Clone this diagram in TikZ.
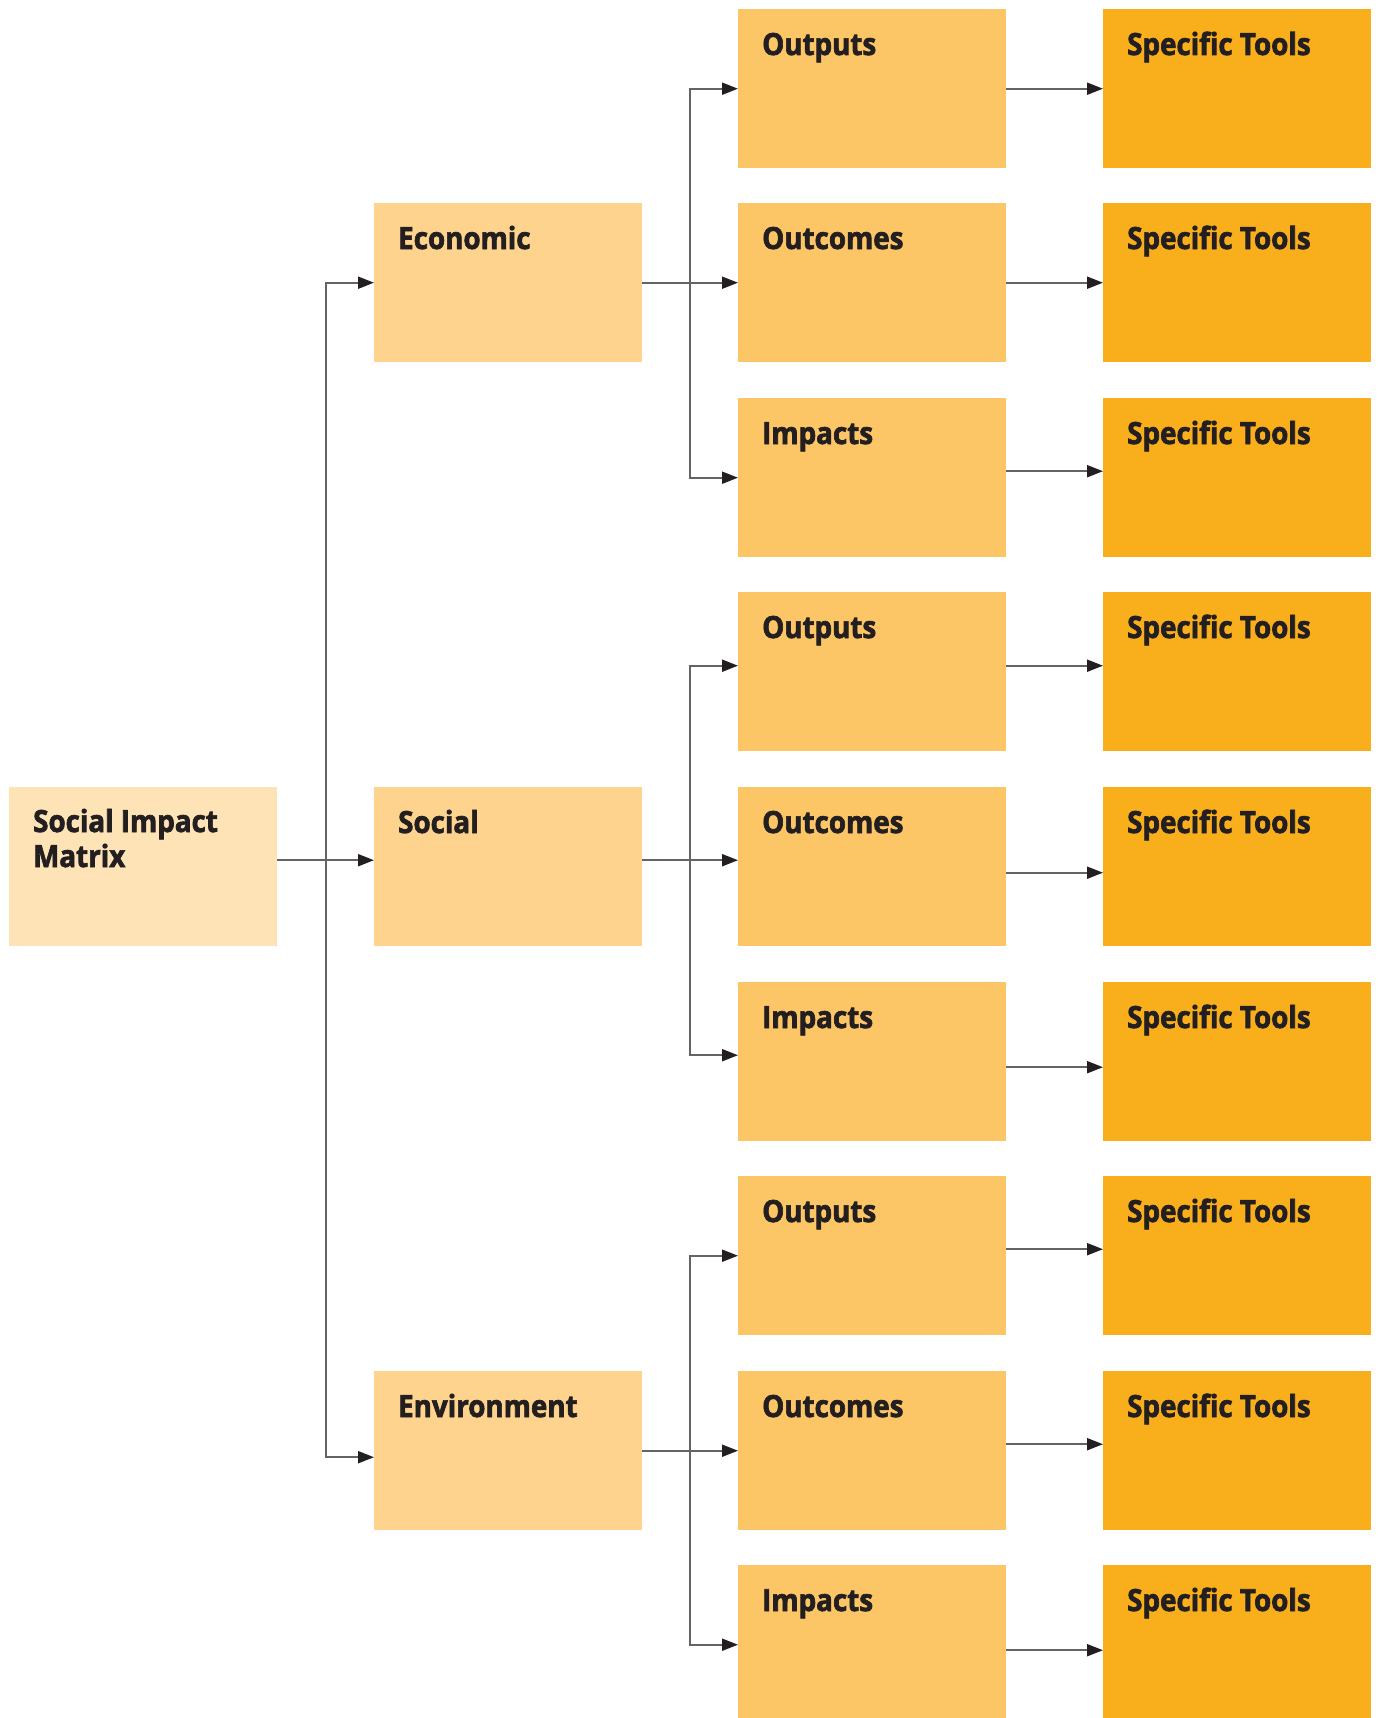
\documentclass[tikz,border=0pt]{standalone}
\usepackage{fontspec}
\newfontfamily\boxfont{Open Sans}[FakeStretch=0.91, FakeBold=2.2]
\usetikzlibrary{arrows.meta}
\definecolor{cmatrix}{RGB}{253,227,182}
\definecolor{clevtwo}{RGB}{253,211,141}
\definecolor{clevthree}{RGB}{252,197,101}
\definecolor{ctool}{RGB}{249,174,27}
\definecolor{cline}{RGB}{100,100,100}
\definecolor{ctext}{RGB}{35,31,32}
\tikzset{
  x=1pt, y=-1pt,
  cell/.style={anchor=north west, minimum width=268pt, minimum height=159pt, inner sep=0pt, draw=none},
  matrixcell/.style={cell, fill=cmatrix},
  dimcell/.style={cell, fill=clevtwo},
  levcell/.style={cell, fill=clevthree},
  toolcell/.style={cell, fill=ctool},
  lbl/.style={anchor=base west, inner sep=0pt, text=ctext, font=\boxfont\bfseries\fontsize{30.5}{35}\selectfont, align=left},
  conn/.style={draw=cline, line width=2pt, -{Triangle[length=16pt,width=12pt,fill=ctext,color=ctext]}},
}
\begin{document}
\begin{tikzpicture}
\useasboundingbox (0,0) rectangle (1384,1718);
% level 1
\node[matrixcell] (m) at (9,787) {};
\node[lbl] (mt) at ([xshift=24pt,yshift=-80pt]m.north west) {Social Impact\\Matrix};
% level 2
\node[dimcell] (e) at (374,203) {};
\node[dimcell] (s) at (374,787) {};
\node[dimcell] (v) at (374,1371) {};
\node[lbl] (et) at ([xshift=24pt,yshift=-46pt]e.north west) {Economic};
\node[lbl] (st) at ([xshift=24pt,yshift=-46pt]s.north west) {Social};
\node[lbl] (vt) at ([xshift=24pt,yshift=-46pt]v.north west) {Environment};
% level 3 and tools
\foreach \i/\y/\t in {1/9/Outputs,2/203/Outcomes,3/398/Impacts,4/592/Outputs,5/787/Outcomes,6/982/Impacts,7/1176/Outputs,8/1371/Outcomes,9/1565/Impacts}{
  \node[levcell] (o\i) at (738,\y) {};
  \node[lbl] (ot\i) at ([xshift=24pt,yshift=-46pt]o\i.north west) {\t};
  \node[toolcell] (t\i) at (1103,\y) {};
  \node[lbl] (tt\i) at ([xshift=24pt,yshift=-46pt]t\i.north west) {Specific Tools};
}
% spine from matrix
\coordinate (j1) at (326,860);
\draw[conn] ([yshift=6.5pt]m.east) -- ([yshift=6.5pt]s.west);
\draw[conn] (j1) |- (e.west);
\draw[conn] (j1) |- ([yshift=-6.5pt]v.west);
% economic group
\coordinate (j2) at (690,282.5);
\draw[conn] (e.east) -- (o2.west);
\draw[conn] (j2) |- (o1.west);
\draw[conn] (j2) |- (o3.west);
% social group
\coordinate (j3) at (690,860);
\draw[conn] ([yshift=6.5pt]s.east) -- ([yshift=6.5pt]o5.west);
\draw[conn] (j3) |- ([yshift=6pt]o4.west);
\draw[conn] (j3) |- ([yshift=6.5pt]o6.west);
% environment group
\coordinate (j4) at (690,1450.5);
\draw[conn] (v.east) -- (o8.west);
\draw[conn] (j4) |- (o7.west);
\draw[conn] (j4) |- (o9.west);
% to tools
\draw[conn] (o1.east) -- (t1.west);
\draw[conn] (o2.east) -- (t2.west);
\draw[conn] ([yshift=6.5pt]o3.east) -- ([yshift=6.5pt]t3.west);
\draw[conn] ([yshift=6pt]o4.east) -- ([yshift=6pt]t4.west);
\draw[conn] ([yshift=-6pt]o5.east) -- ([yshift=-6pt]t5.west);
\draw[conn] ([yshift=-5.5pt]o6.east) -- ([yshift=-5.5pt]t6.west);
\draw[conn] ([yshift=6.5pt]o7.east) -- ([yshift=6.5pt]t7.west);
\draw[conn] ([yshift=6.5pt]o8.east) -- ([yshift=6.5pt]t8.west);
\draw[conn] ([yshift=-5.5pt]o9.east) -- ([yshift=-5.5pt]t9.west);
\end{tikzpicture}
\end{document}
